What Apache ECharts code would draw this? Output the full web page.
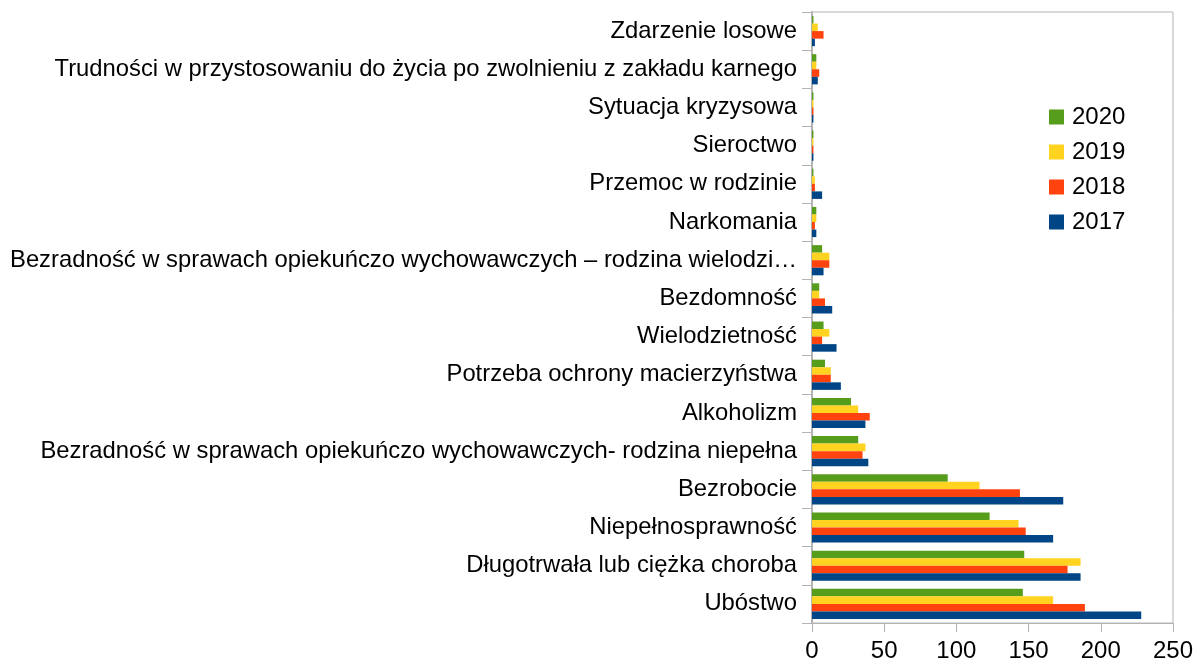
<!DOCTYPE html>
<html>
<head>
<meta charset="utf-8">
<script src="https://cdn.jsdelivr.net/npm/echarts@6/dist/echarts.min.js"></script>
<style>
  html, body { margin: 0; padding: 0; background: #fff; }
  #chart { width: 1196px; height: 663px; }
</style>
</head>
<body>
<div id="chart"></div>
<script>
// kategorie od góry do dołu
const categories = [
  'Zdarzenie losowe',
  'Trudności w przystosowaniu do życia po zwolnieniu z zakładu karnego',
  'Sytuacja kryzysowa',
  'Sieroctwo',
  'Przemoc w rodzinie',
  'Narkomania',
  'Bezradność w sprawach opiekuńczo wychowawczych – rodzina wielodzi…',
  'Bezdomność',
  'Wielodzietność',
  'Potrzeba ochrony macierzyństwa',
  'Alkoholizm',
  'Bezradność w sprawach opiekuńczo wychowawczych- rodzina niepełna',
  'Bezrobocie',
  'Niepełnosprawność',
  'Długotrwała lub ciężka choroba',
  'Ubóstwo'
];
const years = ['2020', '2019', '2018', '2017'];
const v2020 = [1, 3, 1, 1, 1, 3, 7, 5, 8, 9, 27, 32, 94, 123, 147, 146];
const v2019 = [4, 3, 1, 1, 2, 3, 12, 5, 12, 13, 32, 37, 116, 143, 186, 167];
const v2018 = [8, 5, 1, 1, 2, 2, 12, 9, 7, 13, 40, 35, 144, 148, 177, 189];
const v2017 = [2, 4, 1, 1, 7, 3, 8, 14, 17, 20, 37, 39, 174, 167, 186, 228];
const xTicks = [0, 50, 100, 150, 200, 250];

const colors = ['#579d1c', '#ffd320', '#ff420e', '#004586'];
const values = [v2020, v2019, v2018, v2017];
const font = '"Liberation Sans", Arial, sans-serif';

const chart = echarts.init(document.getElementById('chart'));
chart.setOption({
  animation: false,
  textStyle: { fontFamily: font },
  grid: {
    left: 812, right: 20, top: 12, bottom: 40,
    show: true, borderColor: '#b3b3b3', borderWidth: 1
  },
  legend: {
    data: years,
    orient: 'vertical',
    left: 1049, top: 105,
    padding: 0,
    itemWidth: 15, itemHeight: 15, itemGap: 11,
    icon: 'rect',
    textStyle: { fontSize: 24, color: '#000', fontFamily: font, lineHeight: 24, padding: [0, 0, 0, 3] }
  },
  xAxis: {
    type: 'value',
    min: xTicks[0], max: xTicks[xTicks.length - 1], interval: 50,
    axisLine: { show: true, lineStyle: { color: '#b3b3b3', width: 1 } },
    axisTick: { show: true, length: 9, lineStyle: { color: '#b3b3b3' } },
    splitLine: { show: false },
    axisLabel: { fontSize: 24, color: '#000', margin: 16, fontFamily: font }
  },
  yAxis: {
    type: 'category',
    inverse: true,
    data: categories,
    axisLine: { show: true, lineStyle: { color: '#b3b3b3', width: 2 } },
    axisTick: { show: true, length: 10, lineStyle: { color: '#b3b3b3' } },
    axisLabel: { fontSize: 23.8, color: '#000', margin: 15, fontFamily: font }
  },
  series: years.map((y, i) => ({
    name: y,
    type: 'bar',
    data: values[i],
    itemStyle: { color: colors[i] },
    barGap: '0%',
    barCategoryGap: '21%'
  }))
});
</script>
</body>
</html>
